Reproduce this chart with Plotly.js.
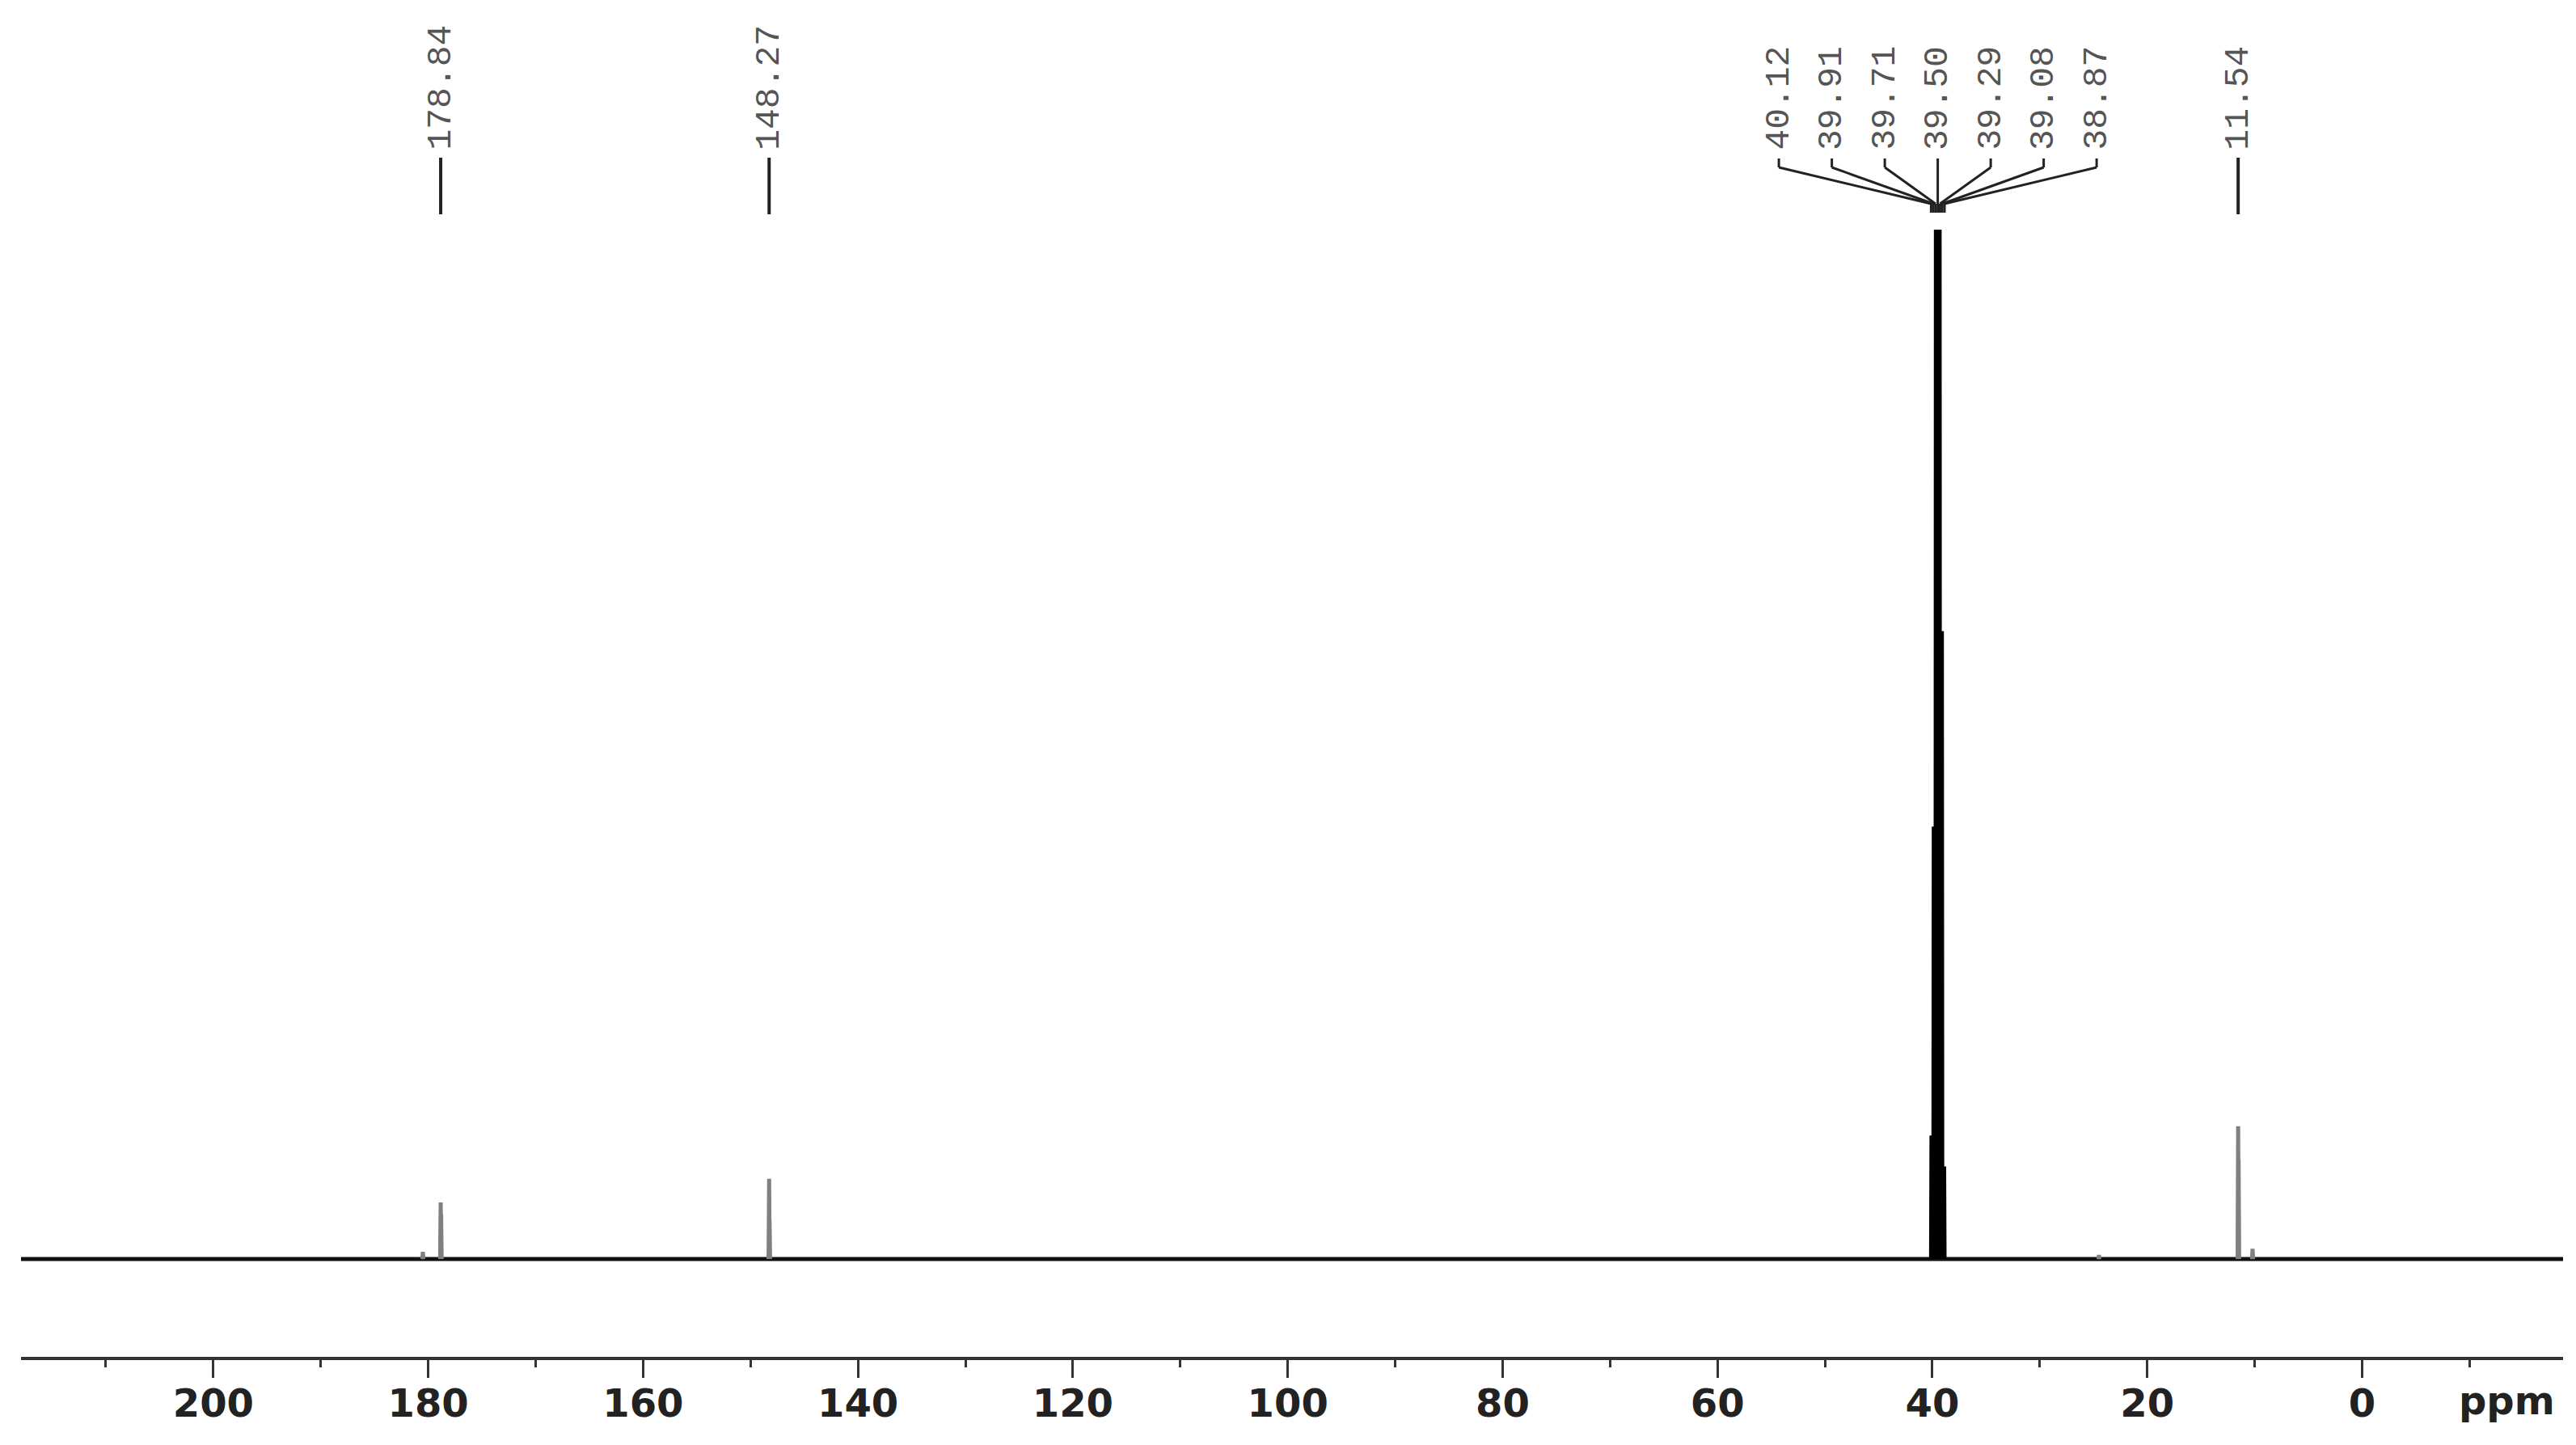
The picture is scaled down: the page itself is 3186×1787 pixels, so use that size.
<!DOCTYPE html>
<html>
<head>
<meta charset="utf-8">
<script src="https://cdn.plot.ly/plotly-3.0.1.min.js"></script>
<style>
  html, body { margin: 0; padding: 0; background: #fff; }
  #plot { width: 3186px; height: 1787px; }
</style>
</head>
<body>
<div id="plot"></div>
<script>
// 13C NMR spectrum (DMSO-d6)
const xRange = [217.9, -18.7];
const yRange = [-9.5, 122.3];

// sample peaks (ppm, relative height)
const peakPpm = [180.5, 178.84, 178.80, 148.27, 148.24, 24.5, 11.54, 11.50, 10.2];
const peakHeight = [0.7, 5.5, 4.4, 7.8, 3.9, 0.4, 12.9, 9.7, 1.0];

// solvent septet, clipped at the top
const solventPpm = [40.12, 39.91, 39.71, 39.50, 39.29, 39.08, 38.87];
const solventHeight = [12, 42, 100, 100, 100, 61, 9];

// peak picking labels
const singlePpm = [178.84, 148.27, 11.54];
const singleLabels = ['178.84', '148.27', '11.54'];
const groupLabels = ['40.12', '39.91', '39.71', '39.50', '39.29', '39.08', '38.87'];

// === GEOMETRY ===
const W = 3186, Hfull = 1787;
const margin = { l: 26, r: 16, t: 0, b: 109 };
const plotH = Hfull - margin.t - margin.b;
const pxPerPpm = (W - margin.l - margin.r) / (xRange[0] - xRange[1]);
const pap = py => (plotH - (py - margin.t)) / plotH;   // pixel row -> paper y

function sticks(ppm, h, hw) {
  const x = [], y = [];
  ppm.forEach((p, i) => {
    x.push(p + hw, p, p - hw, null);
    y.push(0, h[i], 0, null);
  });
  return { x, y };
}

const pk = sticks(peakPpm, peakHeight, 0.05);
const sv = sticks(solventPpm, solventHeight, 0.04);

const baseline = {
  x: xRange, y: [0, 0], mode: 'lines', hoverinfo: 'skip',
  line: { color: '#111', width: 5 }
};
const peaks = {
  x: pk.x, y: pk.y, mode: 'lines', connectgaps: false, hoverinfo: 'skip',
  line: { color: '#808080', width: 5 }
};
const solvent = {
  x: sv.x, y: sv.y, mode: 'lines', connectgaps: false, hoverinfo: 'skip',
  line: { color: '#000', width: 4 }
};

// === LABELS + LEADER LINES ===
const shapes = [];
const annotations = [];
const lineCol = '#222';
const labelFont = { family: 'Liberation Mono, monospace', size: 43, color: '#555' };

singlePpm.forEach((p, i) => {
  shapes.push({ type: 'line', xref: 'x', yref: 'paper', x0: p, x1: p, y0: pap(195), y1: pap(265),
    line: { color: lineCol, width: 4 } });
  annotations.push({ x: p, y: pap(188), xref: 'x', yref: 'paper', text: singleLabels[i],
    textangle: -90, showarrow: false, xanchor: 'center', yanchor: 'bottom', font: labelFont });
});

const center = solventPpm[3];
const gap = 65.5 / pxPerPpm;
groupLabels.forEach((t, i) => {
  const lx = center + gap * (3 - i);
  const p = solventPpm[i];
  shapes.push({ type: 'line', xref: 'x', yref: 'paper', x0: lx, x1: lx, y0: pap(196), y1: pap(207),
    line: { color: lineCol, width: 3 } });
  shapes.push({ type: 'line', xref: 'x', yref: 'paper', x0: lx, x1: p, y0: pap(207), y1: pap(252),
    line: { color: lineCol, width: 3 } });
  shapes.push({ type: 'line', xref: 'x', yref: 'paper', x0: p, x1: p, y0: pap(252), y1: pap(263),
    line: { color: lineCol, width: 3 } });
  annotations.push({ x: lx, y: pap(188), xref: 'x', yref: 'paper', text: t,
    textangle: -90, showarrow: false, xanchor: 'center', yanchor: 'bottom', font: labelFont });
});

annotations.push({ x: -13.5, y: pap(1702), xref: 'x', yref: 'paper', text: 'ppm',
  showarrow: false, xanchor: 'center', yanchor: 'top',
  font: { family: 'DejaVu Sans', size: 48, color: '#222', weight: 'bold' } });

const layout = {
  width: W, height: Hfull,
  margin,
  paper_bgcolor: '#fff', plot_bgcolor: '#fff',
  showlegend: false,
  xaxis: {
    range: xRange, autorange: false,
    showline: true, linewidth: 4, linecolor: '#333',
    ticks: 'outside', ticklen: 22, tickwidth: 3, tickcolor: '#333',
    ticklabelstandoff: -10,
    tick0: 0, dtick: 20,
    minor: { tick0: 0, dtick: 10, ticks: 'outside', ticklen: 9, tickwidth: 3, tickcolor: '#333', showgrid: false },
    showgrid: false, zeroline: false,
    tickfont: { family: 'DejaVu Sans', size: 48, color: '#222', weight: 'bold' }
  },
  yaxis: { visible: false, range: yRange, autorange: false, fixedrange: true },
  shapes,
  annotations
};

Plotly.newPlot('plot', [baseline, peaks, solvent], layout, { displayModeBar: false, staticPlot: true });
</script>
</body>
</html>
